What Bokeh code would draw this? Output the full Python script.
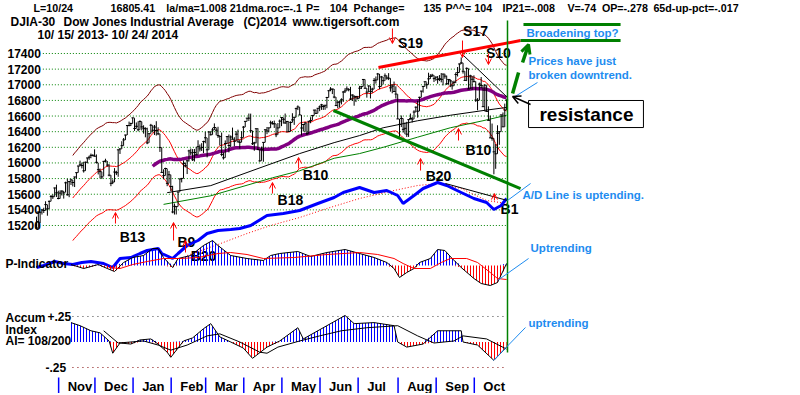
import numpy as np
import pandas as pd
from bokeh.plotting import figure
from bokeh.models import Range1d, Arrow, OpenHead, ColumnDataSource
from bokeh.core.properties import value
from bokeh.embed import file_html
from bokeh.resources import INLINE

# ---------------- DATA (DJIA daily, 10/15/2013 - 10/24/2014) ----------------
closes = [
 15168,15373,15371,15399,15392,15467,15413,15509,15570,15568,15680,15618,15545,
 15615,15639,15618,15746,15593,15761,15783,15750,15821,15876,15961,15976,15967,15900,16009,16064,16073,16097,16098,16086,
 16008,15914,15889,15822,16020,16025,15973,15844,15739,15755,15884,15875,16168,16179,16221,16294,16357,16479,16478,16504,16577,
 16441,16469,16425,16530,16462,16444,16437,16257,16374,16482,16418,16459,16415,16373,16198,15879,15838,15929,15739,15849,15699,
 15373,15445,15441,15628,15795,15802,15994,15964,16027,16154,16130,16041,16134,16104,16208,16180,16199,16273,16322,
 16168,16396,16361,16422,16453,16419,16351,16340,16109,16066,16248,16337,16223,16332,16303,16277,16368,16269,16264,16323,16458,
 16532,16573,16573,16413,16246,16257,16438,16171,16027,16174,16263,16425,16409,16449,16514,16502,16501,16361,16448,16535,16581,
 16559,16512,16531,16402,16518,16551,16584,16695,16716,16614,16447,16492,16511,16374,16533,16543,16606,16676,16634,16699,16717,
 16743,16722,16738,16837,16924,16943,16945,16843,16734,16776,16781,16808,16907,16921,16947,16937,16818,16868,16846,16851,16827,
 16956,16976,17068,16956,16906,16985,16915,16944,17055,17061,17138,16977,17100,17052,17114,17087,17084,16961,16983,16913,16881,16563,
 16493,16569,16430,16443,16368,16554,16569,16561,16651,16713,16662,16839,16919,16979,17039,17001,17076,17107,17122,17079,17098,
 17067,17078,17069,17137,17111,17014,17068,17050,16987,17031,17131,17157,17266,17280,17173,17056,17210,16946,17113,17071,17043,
 16805,16801,17009,16992,16720,16995,16659,16544,16321,16315,16142,16117,16380,16400,16615,16462,16677,16805]
highs = [
 15313,15376,15376,15412,15427,15510,15467,15519,15590,15598,15685,15722,15645,
 15650,15652,15640,15760,15797,15767,15798,15783,15822,15877,15962,16030,16004,16015,16017,16065,16093,16120,16109,16175,
 16109,16002,15929,15887,16026,16054,16025,15985,15844,15789,15934,15900,16168,16189,16278,16319,16361,16483,16529,16515,16577,
 16573,16518,16533,16545,16528,16482,16456,16451,16379,16500,16482,16486,16534,16456,16373,16196,15919,15939,15928,15898,15849,
 15708,15481,15445,15632,15798,15808,16031,16005,16041,16169,16185,16177,16178,16206,16290,16236,16253,16284,16398,
 16321,16406,16405,16450,16506,16453,16463,16342,16389,16133,16288,16340,16364,16352,16452,16329,16406,16426,16294,16405,16473,
 16534,16574,16632,16631,16412,16270,16438,16444,16171,16210,16263,16425,16460,16449,16541,16535,16542,16501,16511,16555,16588,
 16581,16632,16537,16530,16532,16636,16584,16707,16736,16715,16613,16496,16524,16509,16536,16585,16614,16680,16684,16701,16735,
 16756,16743,16742,16845,16930,16970,16950,16946,16843,16792,16799,16827,16920,16956,16979,16955,16973,16878,16866,16856,16857,
 16986,16984,17074,17068,16956,16990,16985,16962,17086,17106,17151,17138,17113,17100,17145,17119,17149,17084,17006,17041,16980,16880,
 16563,16607,16570,16517,16526,16561,16632,16588,16674,16723,16796,16847,16922,16983,17039,17032,17154,17135,17140,17122,17105,
 17111,17124,17150,17140,17140,17117,17074,17069,17049,17053,17158,17227,17272,17350,17280,17173,17221,17208,17128,17113,17120,
 17043,16829,17028,17099,16991,17003,16994,16724,16604,16504,16315,16242,16482,16401,16615,16646,16759,16813]
lows = [
 15155,15170,15230,15340,15360,15392,15325,15411,15509,15540,15568,15565,15535,
 15543,15583,15544,15624,15583,15562,15718,15700,15692,15799,15876,15958,15930,15877,15900,15995,16040,16060,16084,16083,
 15992,15853,15804,15794,15829,16006,15953,15829,15703,15729,15755,15845,15823,16115,16179,16221,16294,16357,16470,16473,16505,
 16410,16439,16405,16426,16416,16375,16328,16240,16258,16375,16390,16357,16350,16356,16141,15879,15791,15838,15703,15739,15640,
 15356,15340,15341,15443,15631,15751,15803,15943,15858,16018,16100,16025,16018,16101,16106,16146,16153,16126,16252,
 16071,16169,16351,16361,16422,16355,16321,16224,16086,16043,16066,16246,16135,16203,16302,16213,16278,16268,16183,16264,16324,
 16458,16532,16536,16385,16230,16156,16251,16167,16015,16028,16015,16262,16368,16391,16448,16492,16448,16330,16361,16448,16471,
 16503,16500,16389,16401,16403,16518,16487,16584,16676,16614,16351,16403,16398,16356,16376,16508,16543,16606,16627,16635,16662,
 16679,16678,16680,16700,16837,16918,16881,16827,16731,16699,16709,16749,16780,16894,16921,16916,16804,16793,16732,16779,16812,
 16827,16945,16977,16950,16835,16905,16825,16897,16943,17015,17060,16943,16976,17004,17051,17065,17060,16912,16891,16912,16825,16563,
 16333,16459,16389,16368,16333,16333,16554,16518,16561,16650,16579,16663,16838,16899,16978,16949,17002,17075,17098,17035,17051,
 17013,17047,17031,16992,17077,16997,17004,16970,16938,16983,17021,17106,17156,17265,17143,17053,17047,16946,16945,16934,17029,
 16781,16674,16801,16955,16719,16659,16659,16544,16321,16284,15855,15925,16117,16232,16400,16461,16462,16678]
assert len(closes) == len(highs) == len(lows) == 260

price_ticks = [15200, 15400, 15600, 15800, 16000, 16200, 16400, 16600, 16800, 17000, 17200, 17400]
month_names = ["Nov", "Dec", "Jan", "Feb", "Mar", "Apr", "May", "Jun", "Jul", "Aug", "Sep", "Oct"]
month_first_day = [13, 33, 54, 75, 94, 115, 136, 157, 178, 200, 221, 242]

# long moving averages (black and green)
black_ma_days = [72, 96, 127, 145, 164, 178, 191, 210, 228, 246, 259]
black_ma_vals = [15620, 15710, 15970, 16120, 16260, 16350, 16450, 16540, 16610, 16670, 16710]
green_ma_days = [70, 96, 130, 145, 164, 178, 191, 210, 228, 246, 259]
green_ma_vals = [15470, 15580, 15810, 15900, 16060, 16120, 16200, 16330, 16450, 16540, 16610]

# NYSE A/D line (arbitrary units) and its moving average
ad_days = [0,4,10,15,20,25,30,37,42,46,52,57,61,67,69,75,78,83,89,94,100,107,112,118,127,136,145,155,164,169,
           178,186,193,199,202,208,213,221,226,234,241,248,252,256,259]
ad_vals = [1300,1500,1900,1700,1600,1800,1900,1700,1300,2200,2300,2700,3000,3200,2700,2200,2700,3500,4000,4700,
           5000,5100,5200,5500,6500,6700,7000,7700,8300,8800,9300,8800,9000,8500,7700,8500,9200,9800,9500,8800,
           8200,7800,7100,7500,8200]
adma_days = [83, 100, 116, 129, 145, 160, 178, 197, 210, 221, 234, 248, 259]
adma_vals = [2500, 3600, 4700, 5500, 6300, 7200, 8200, 9000, 9500, 9700, 9200, 8000, 7700]

# P-Indicator and its moving average
pind_days = [19,26,34,39,43,48,53,59,64,67,70,75,78,85,92,97,100,107,116,125,129,134,144,151,160,170,178,186,193,197,
             200,204,208,211,217,221,225,229,234,241,245,250,254,259]
pind_vals = [50,-150,50,-150,-300,150,400,500,850,850,400,-100,350,500,1000,1250,1000,500,350,250,500,600,700,450,650,
             800,600,400,150,-150,-600,-350,-150,150,350,800,750,350,-100,-650,-900,-1000,-850,100]
pindma_days = [40,46,53,61,70,79,89,100,107,116,125,142,160,178,188,197,202,208,217,223,228,237,243,250,254,259]
pindma_vals = [-100,-150,50,200,350,350,400,600,650,550,350,400,550,650,550,350,100,-150,-150,150,350,350,150,-350,-650,-700]

# Accumulation Index and its moving average
acc_days = [19,24,30,35,40,42,46,52,57,63,67,72,74,81,86,92,96,101,107,114,119,127,134,144,147,160,170,175,186,197,
            199,204,213,221,234,235,243,252,259]
acc_vals = [0.19,0.16,0.11,0.09,0.01,-0.11,-0.01,-0.02,0.02,0.03,-0.02,-0.10,-0.15,0.01,0.04,0.13,0.18,0.05,0.0,-0.06,
            -0.16,-0.05,0.01,0.14,0.03,0.16,0.26,0.18,0.19,0.16,0.0,-0.05,-0.02,0.11,0.11,0.0,-0.03,-0.18,-0.05]
accma_days = [37,45,59,67,74,83,94,101,112,123,127,133,145,156,168,182,199,210,219,230,235,248,259]
accma_vals = [0.11,-0.01,0.01,-0.03,-0.08,-0.03,0.06,0.08,0.0,-0.10,-0.11,-0.05,0.01,0.06,0.11,0.14,0.16,0.06,-0.01,0.01,0.06,0.03,-0.07]

# signals
buy_labels = ["B13", "B9", "B18", "B10", "B20", "B10", "B1"]
buy_label_day = [52.9, 82.6, 139.9, 153.7, 221.5, 243.5, 260.6]
buy_label_price = [15059, 14995, 15532, 15840, 15827, 16172, 15405]
sell_labels = ["S19", "S17", "S10"]
sell_label_day = [206.1, 241.9, 254.5]
sell_label_price = [17528, 17694, 17400]
buy_arrow_day = [43.5, 75.5, 82.1, 130.0, 144.4, 211.6, 232.5, 252.3]
buy_arrow_from = [15225, 15008, 14855, 15609, 15929, 15903, 16287, 15520]
buy_arrow_to = [15366, 15238, 15008, 15750, 16070, 16057, 16441, 15609]
sell_arrow_day = [196.1, 234.7, 249.0]
sell_arrow_from = [17720, 17566, 17400]
sell_arrow_to = [17528, 17349, 17259]

header1 = ["L=10/24", "16805.41", "la/ma=1.008", "21dma.roc=-.1", "P=", "104", "Pchange=", "135",
           "P^^= 104", "IP21=-.008", "V=-74", "OP=-.278", "65d-up-pct=-.017"]
header1_day = [-1.65, 40.8, 71.5, 106.5, 148.5, 161.5, 174.7, 213.2, 225.3, 256.7, 292.5, 311.5, 339.9]
header2 = ["DJIA-30", "Dow Jones Industrial Average", "(C)2014", "www.tigersoft.com"]
header2_day = [-14.3, 14.9, 114.0, 141.0]
header3 = "10/ 15/ 2013- 10/ 24/ 2014"

# ---------------- FIGURE ----------------
FONT = value("Liberation Sans")
BLUE_TXT = "#1E8CF0"

p = figure(width=798, height=393, output_backend="svg", toolbar_location=None,
           x_range=Range1d(-19.835, 419.83), y_range=Range1d(13051.1, 18077.9),
           x_axis_location=None, y_axis_location=None, min_border=0,
           outline_line_color=None, background_fill_color="white", border_fill_color="white")
p.extra_y_ranges = {"pind": Range1d(-6400, 13250), "ad": Range1d(-11300, 28000),
                    "acc": Range1d(-0.5049, 3.3480)}
p.grid.visible = False

days = np.arange(len(closes))
cl = pd.Series(closes, dtype=float)
ma21 = cl.rolling(21).mean()
ma65 = cl.rolling(65).mean()

def txt(x, y, t, size="12px", color="black", align="left", style="bold", rng="default"):
    p.text(x=x, y=y, text=t, text_font=FONT, text_font_size=size, text_font_style=style,
           text_color=color, text_align=align, text_baseline="middle", y_range_name=rng)

# header
txt(header1_day, [17988] * len(header1), header1, size="10.7px")
txt(header2_day, [17809] * len(header2), header2)
txt([0.55], [17643], [header3])

# price grid + labels
p.segment(x0=3.5, x1=259, y0=price_ticks, y1=price_ticks, line_color="#008000", line_dash="1 2", line_width=1)
txt([2.4] * len(price_ticks), price_ticks, [str(t) for t in price_ticks], align="right")

# bands and moving averages
p.line(days, ma21 * 1.035, line_color="#800000", line_width=1)
p.line(days, ma21, line_color="#FF0000", line_width=1)
p.line(days, ma21 * 0.965, line_color="#FF0000", line_width=1)
p.line(black_ma_days, black_ma_vals, line_color="black", line_width=1)
p.line(green_ma_days, green_ma_vals, line_color="#008000", line_width=1)
p.line(days, ma65, line_color="#800080", line_width=3.5)

# price bars
p.segment(x0=days, x1=days, y0=lows, y1=highs, line_color="black", line_width=1)
p.segment(x0=days - 0.7, x1=days + 0.9, y0=closes, y1=closes, line_color="black", line_width=1)

# trend lines
p.segment(x0=[188.4], y0=[17221], x1=[266.7], y1=[17566], line_color="#FF0000", line_width=3)
p.segment(x0=[163.6], y0=[16671], x1=[266.7], y1=[15673], line_color="#008000", line_width=3)
p.segment(x0=[235.3], y0=[17374], x1=[259.5], y1=[16837], line_color="black", line_width=1)

# signal labels (lower B20 drawn before the P-Indicator, as in the original)
txt([92.0], [14816], ["B20"], size="14px", align="center")
txt(buy_label_day, buy_label_price, buy_labels, size="14px", align="center")
txt(sell_label_day, sell_label_price, sell_labels, size="14px", align="center")

buy_src = ColumnDataSource(dict(x=buy_arrow_day, y0=buy_arrow_from, y1=buy_arrow_to))
p.add_layout(Arrow(end=OpenHead(size=6, line_color="#FF0000", line_width=1), source=buy_src,
                   x_start="x", y_start="y0", x_end="x", y_end="y1", line_color="#FF0000", line_width=1))
sell_src = ColumnDataSource(dict(x=sell_arrow_day, y0=sell_arrow_from, y1=sell_arrow_to))
p.add_layout(Arrow(end=OpenHead(size=6, line_color="#FF0000", line_width=1), source=sell_src,
                   x_start="x", y_start="y0", x_end="x", y_end="y1", line_color="#FF0000", line_width=1))

# A/D line
p.line(adma_days, adma_vals, y_range_name="ad", line_color="#FF0000", line_dash="1 2", line_width=1)
p.line(ad_days, ad_vals, y_range_name="ad", line_color="#0000FF", line_width=3)
p.segment(x0=[225.3], y0=[9700], x1=[259.5], y1=[8000], y_range_name="ad", line_color="black", line_width=1)

# P-Indicator
pv = np.array(pind_vals, dtype=float)
p.varea(x=pind_days, y1=0, y2=np.maximum(pv, 0), y_range_name="pind", fill_color=None,
        hatch_pattern="vertical_line", hatch_color="#0000FF", hatch_scale=3, hatch_weight=1)
p.varea(x=pind_days, y1=0, y2=np.minimum(pv, 0), y_range_name="pind", fill_color=None,
        hatch_pattern="vertical_line", hatch_color="#FF0000", hatch_scale=3, hatch_weight=1)
p.line(pind_days, pind_vals, y_range_name="pind", line_color="black", line_width=1)
p.line(pindma_days, pindma_vals, y_range_name="pind", line_color="#FF0000", line_width=1)
txt([-17.1], [100], ["P-Indicator"], rng="pind")

# Accumulation index
av = np.array(acc_vals, dtype=float)
p.segment(x0=19.8, x1=259, y0=[0.25], y1=[0.25], y_range_name="acc", line_color="#404040", line_dash="1 4")
p.segment(x0=19.8, x1=259, y0=[-0.25], y1=[-0.25], y_range_name="acc", line_color="#800000", line_dash="1 4")
p.varea(x=acc_days, y1=0, y2=np.maximum(av, 0), y_range_name="acc", fill_color=None,
        hatch_pattern="vertical_line", hatch_color="#0000FF", hatch_scale=3, hatch_weight=1)
p.varea(x=acc_days, y1=0, y2=np.minimum(av, 0), y_range_name="acc", fill_color=None,
        hatch_pattern="vertical_line", hatch_color="#FF0000", hatch_scale=3, hatch_weight=1)
p.line(acc_days, acc_vals, y_range_name="acc", line_color="black", line_width=1)
p.line(accma_days, accma_vals, y_range_name="acc", line_color="black", line_width=1)
txt([-17.1, -17.1, -17.1], [0.2304, 0.1225, 0.0147], ["Accum", "Index", "AI= 108/200"], rng="acc")
txt([6.06, 4.96], [0.25, -0.25], ["+.25", "-.25"], rng="acc")

# month separators and labels
sep = np.array(month_first_day) - 0.8
p.segment(x0=sep, x1=sep, y0=-0.348, y1=-0.5049, y_range_name="acc", line_color="#0000FF", line_width=1.5)
txt(list(sep + 5.0), [-0.4363] * len(month_names), month_names, size="13px", rng="acc")

# last-day marker
p.segment(x0=[259.5], x1=[259.5], y0=[13575], y1=[17822], line_color="#008000", line_width=1.5)

# --- commentary ---
p.segment(x0=[268.3, 266.7], x1=[321.8, 321.8], y0=[17771, 17566], y1=[17771, 17566],
          line_color="#008000", line_width=3)
txt([270.0], [17656], ["Broadening top?"], size="11.5px", color=BLUE_TXT)
p.segment(x0=[262.3], y0=[16888], x1=[265.6], y1=[17157], line_color="#008000", line_width=3.5)
p.add_layout(Arrow(end=OpenHead(size=9, line_color="#008000", line_width=3), x_start=267.8, y_start=17285,
                   x_end=271.1, y_end=17515, line_color="#008000", line_width=3.5))
txt([271.1, 271.1], [17298, 17131], ["Prices have just", "broken downtrend."], size="11.5px", color=BLUE_TXT)
p.segment(x0=[262.8], y0=[16837], x1=[276.0], y1=[17029], line_color=BLUE_TXT, line_width=1)

p.quad(left=[271.1], right=[334.4], top=[16799], bottom=[16453], fill_color="white", line_color="black")
txt([303.0], [16620], ["resistance"], size="19px", align="center")
p.add_layout(Arrow(end=OpenHead(size=8, line_color="black", line_width=1.5), x_start=272.2, y_start=16748,
                   x_end=262.3, y_end=16850, line_color="black", line_width=1.5))

txt([267.8], [15584], ["A/D Line is uptending."], size="11.5px", color=BLUE_TXT)
p.segment(x0=[259.5], y0=[15520], x1=[272.2], y1=[15737], line_color=BLUE_TXT, line_width=1)

txt([272.2], [900], ["Uptrending"], size="11.5px", color=BLUE_TXT, rng="pind")
p.segment(x0=[254.0], y0=[-750], x1=[271.1], y1=[350], y_range_name="pind", line_color=BLUE_TXT, line_width=1)
txt([271.1], [0.191], ["uptrending"], size="11.5px", color=BLUE_TXT, rng="acc")
p.segment(x0=[251.8], y0=[-0.181], x1=[269.4], y1=[0.142], y_range_name="acc", line_color=BLUE_TXT, line_width=1)

open("out.html", "w").write(file_html(p, INLINE))
